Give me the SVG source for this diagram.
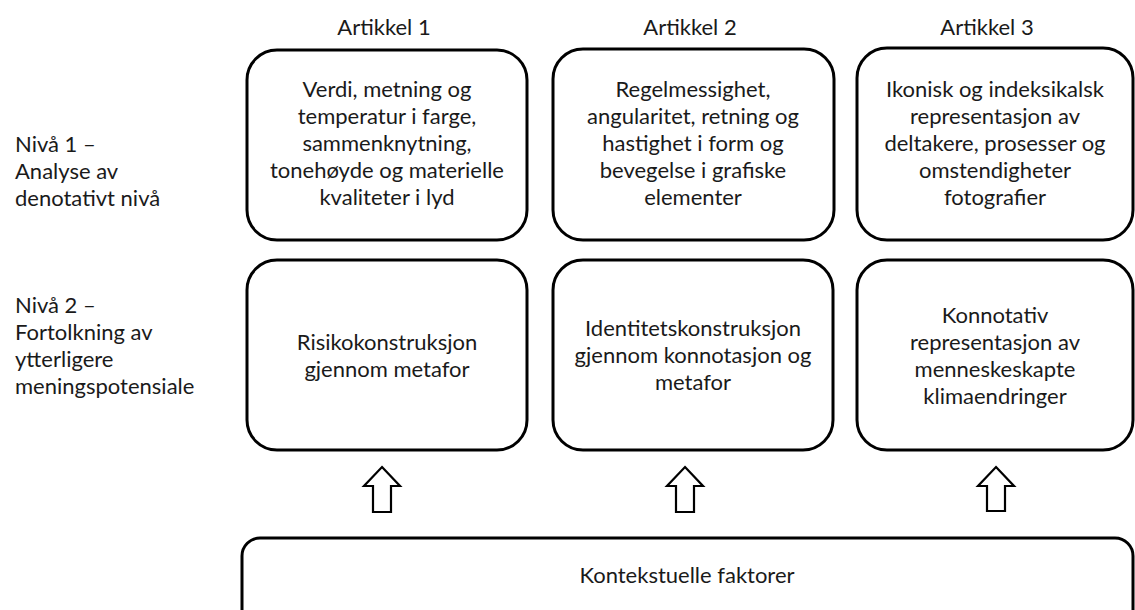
<svg xmlns="http://www.w3.org/2000/svg" width="1135" height="610" viewBox="0 0 1135 610">
<style>
  text { font-family: Lato, "Liberation Sans", sans-serif; font-size: 22px; fill: #1a1a1a; }
  .c { text-anchor: middle; }
  .box { fill: #fff; stroke: #000; stroke-width: 3; }
  .arrow { fill: #fff; stroke: #000; stroke-width: 2.2; stroke-linejoin: miter; }
</style>
<rect width="1135" height="610" fill="#fff"/>

<g id="headers">
  <text class="c" x="384" y="35">Artikkel 1</text>
  <text class="c" x="690" y="35">Artikkel 2</text>
  <text class="c" x="987" y="35">Artikkel 3</text>
</g>

<g id="level1-label">
  <text x="15" y="152">Nivå 1 –</text>
  <text x="15" y="179">Analyse av</text>
  <text x="15" y="206">denotativt nivå</text>
</g>
<g id="level2-label">
  <text x="15" y="313">Nivå 2 –</text>
  <text x="15" y="340">Fortolkning av</text>
  <text x="15" y="367">ytterligere</text>
  <text x="15" y="394">meningspotensiale</text>
</g>

<g id="a1-n1">
  <rect class="box" x="247" y="50" width="280" height="190" rx="30"/>
  <text class="c" x="387" y="97">Verdi, metning og</text>
  <text class="c" x="387" y="124">temperatur i farge,</text>
  <text class="c" x="387" y="151">sammenknytning,</text>
  <text class="c" x="387" y="178">tonehøyde og materielle</text>
  <text class="c" x="387" y="205">kvaliteter i lyd</text>
</g>
<g id="a2-n1">
  <rect class="box" x="553" y="49" width="281" height="191" rx="30"/>
  <text class="c" x="693" y="97">Regelmessighet,</text>
  <text class="c" x="693" y="124">angularitet, retning og</text>
  <text class="c" x="693" y="151">hastighet i form og</text>
  <text class="c" x="693" y="178">bevegelse i grafiske</text>
  <text class="c" x="693" y="205">elementer</text>
</g>
<g id="a3-n1">
  <rect class="box" x="857" y="48" width="276" height="192" rx="30"/>
  <text class="c" x="995" y="97">Ikonisk og indeksikalsk</text>
  <text class="c" x="995" y="124">representasjon av</text>
  <text class="c" x="995" y="151">deltakere, prosesser og</text>
  <text class="c" x="995" y="178">omstendigheter</text>
  <text class="c" x="995" y="205">fotografier</text>
</g>

<g id="a1-n2">
  <rect class="box" x="247" y="260" width="280" height="190" rx="30"/>
  <text class="c" x="387" y="350">Risikokonstruksjon</text>
  <text class="c" x="387" y="377">gjennom metafor</text>
</g>
<g id="a2-n2">
  <rect class="box" x="553" y="260" width="280" height="190" rx="30"/>
  <text class="c" x="693" y="336">Identitetskonstruksjon</text>
  <text class="c" x="693" y="363">gjennom konnotasjon og</text>
  <text class="c" x="693" y="390">metafor</text>
</g>
<g id="a3-n2">
  <rect class="box" x="857" y="260" width="276" height="190" rx="30"/>
  <text class="c" x="995" y="323">Konnotativ</text>
  <text class="c" x="995" y="350">representasjon av</text>
  <text class="c" x="995" y="377">menneskeskapte</text>
  <text class="c" x="995" y="404">klimaendringer</text>
</g>

<g id="context">
  <rect class="box" x="242" y="538" width="891" height="90" rx="18"/>
  <text class="c" x="687" y="583">Kontekstuelle faktorer</text>
</g>

<g id="connectors">
  <path class="arrow" d="M382,467 L400,486 L391,486 L391,512 L373,512 L373,486 L364,486 Z"/>
  <path class="arrow" d="M685,467 L703,486 L694,486 L694,512 L676,512 L676,486 L667,486 Z"/>
  <path class="arrow" d="M996,467 L1014,486 L1005,486 L1005,511 L987,511 L987,486 L978,486 Z"/>
</g>
</svg>
